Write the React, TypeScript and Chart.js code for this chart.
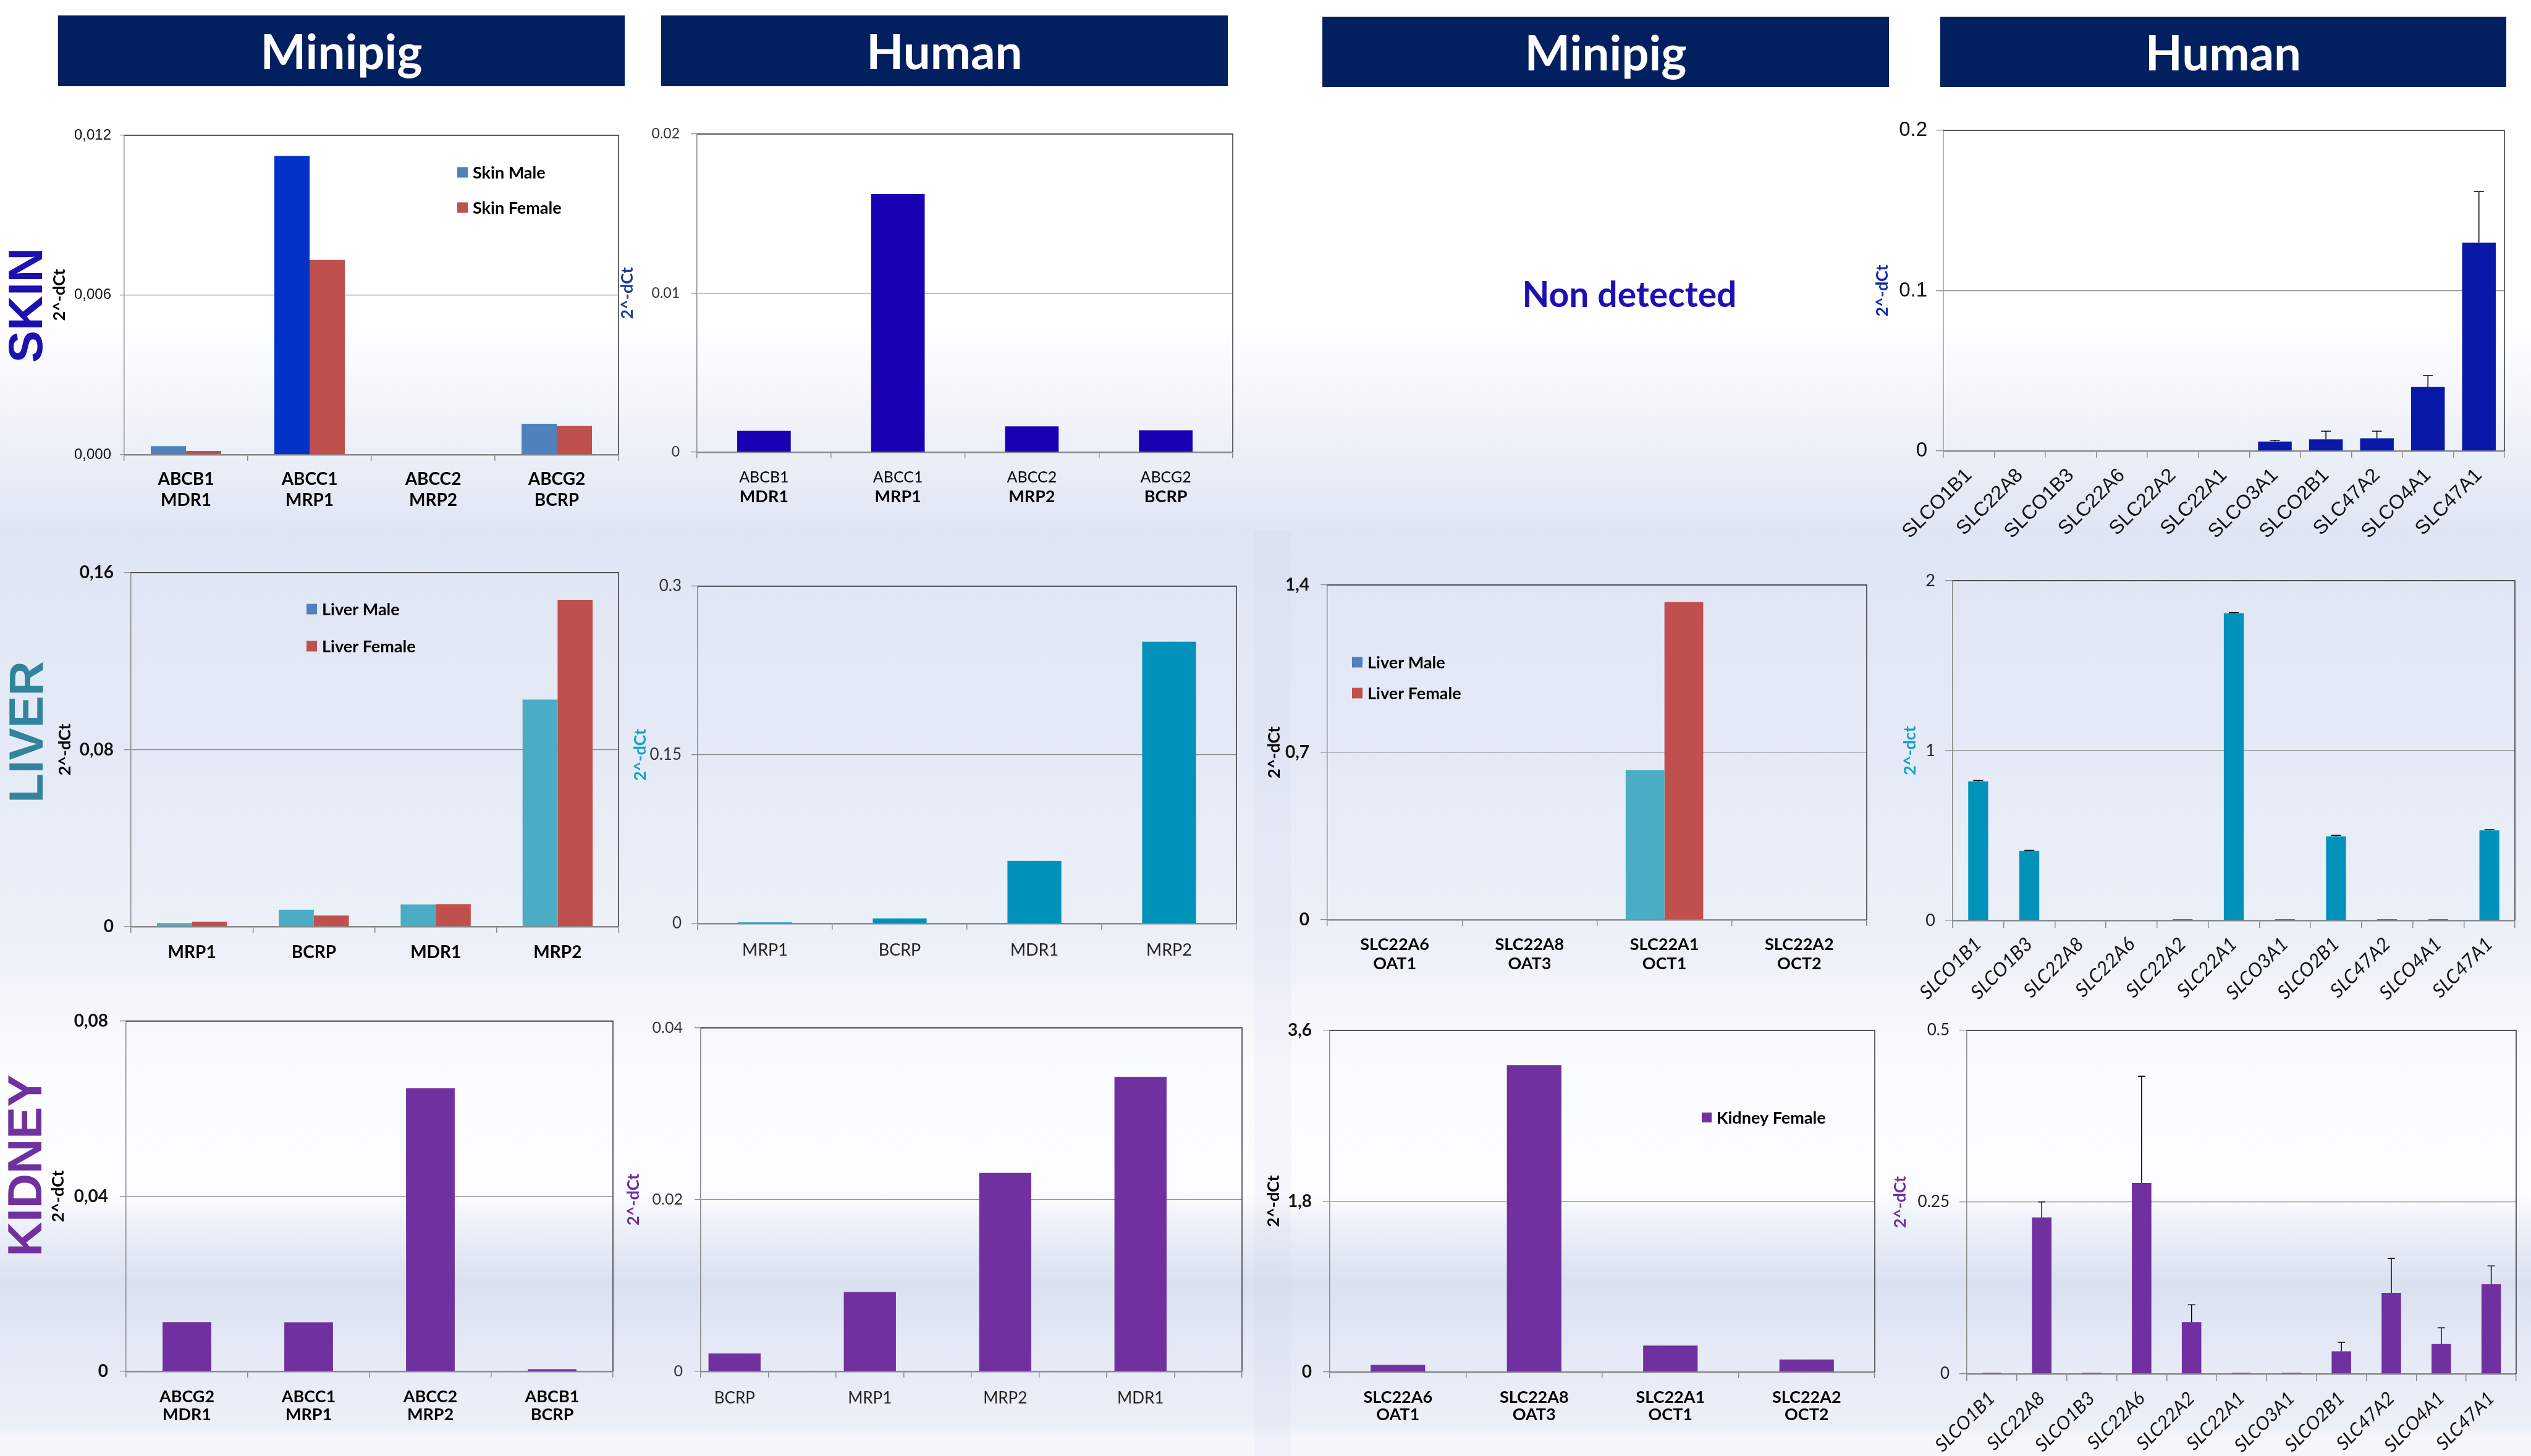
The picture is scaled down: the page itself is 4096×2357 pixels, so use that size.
import React, { useEffect, useRef } from "react";
import { Chart, registerables } from "chart.js";
Chart.register(...registerables);

const CAL = "Lato, 'Open Sans', sans-serif";
const ARIAL = "'Liberation Sans', Arial, sans-serif";
const AXIS = "#8a8a8a";

// ---------------- DATA ----------------
// Row 1 : SKIN
const skinPigLabels = [["ABCB1", "MDR1"], ["ABCC1", "MRP1"], ["ABCC2", "MRP2"], ["ABCG2", "BCRP"]];
const skinPigMale = [0.00032, 0.01122, 0, 0.00116];
const skinPigFemale = [0.00014, 0.00732, 0, 0.00108];
const skinPigMaleColors = ["#4f81bd", "#0032c8", "#4f81bd", "#4f81bd"];
const skinPigTicks = [0, 0.006, 0.012];
const skinPigTickLabels = ["0,000", "0,006", "0,012"];

const skinHumanLabels = [["ABCB1", "MDR1"], ["ABCC1", "MRP1"], ["ABCC2", "MRP2"], ["ABCG2", "BCRP"]];
const skinHumanValues = [0.00134, 0.01623, 0.00162, 0.00138];
const skinHumanTicks = [0, 0.01, 0.02];
const skinHumanTickLabels = ["0", "0.01", "0.02"];

const skinHumanSlcLabels = ["SLCO1B1", "SLC22A8", "SLCO1B3", "SLC22A6", "SLC22A2", "SLC22A1", "SLCO3A1", "SLCO2B1", "SLC47A2", "SLCO4A1", "SLC47A1"];
const skinHumanSlcValues = [0, 0, 0, 0, 0, 0, 0.0059, 0.0072, 0.0079, 0.04, 0.13];
const skinHumanSlcErrors = [0, 0, 0, 0, 0, 0, 0.0007, 0.0051, 0.0044, 0.007, 0.0318];
const skinHumanSlcTicks = [0, 0.1, 0.2];
const skinHumanSlcTickLabels = ["0", "0.1", "0.2"];

// Row 2 : LIVER
const liverPigLabels = ["MRP1", "BCRP", "MDR1", "MRP2"];
const liverPigMale = [0.0016, 0.0076, 0.01, 0.1026];
const liverPigFemale = [0.0022, 0.005, 0.0101, 0.1477];
const liverPigTicks = [0, 0.08, 0.16];
const liverPigTickLabels = ["0", "0,08", "0,16"];

const liverHumanLabels = ["MRP1", "BCRP", "MDR1", "MRP2"];
const liverHumanValues = [0.001, 0.0045, 0.0556, 0.2507];
const liverHumanTicks = [0, 0.15, 0.3];
const liverHumanTickLabels = ["0", "0.15", "0.3"];

const liverPigSlcLabels = [["SLC22A6", "OAT1"], ["SLC22A8", "OAT3"], ["SLC22A1", "OCT1"], ["SLC22A2", "OCT2"]];
const liverPigSlcMale = [0, 0, 0.626, 0];
const liverPigSlcFemale = [0, 0, 1.329, 0];
const liverPigSlcTicks = [0, 0.7, 1.4];
const liverPigSlcTickLabels = ["0", "0,7", "1,4"];

const liverHumanSlcLabels = ["SLCO1B1", "SLCO1B3", "SLC22A8", "SLC22A6", "SLC22A2", "SLC22A1", "SLCO3A1", "SLCO2B1", "SLC47A2", "SLCO4A1", "SLC47A1"];
const liverHumanSlcValues = [0.818, 0.409, 0, 0, 0.007, 1.808, 0.007, 0.495, 0.007, 0.007, 0.53];
const liverHumanSlcErrors = [0.006, 0.004, 0, 0, 0, 0.004, 0, 0.006, 0, 0, 0.005];
const liverHumanSlcTicks = [0, 1, 2];
const liverHumanSlcTickLabels = ["0", "1", "2"];

// Row 3 : KIDNEY
const kidneyPigLabels = [["ABCG2", "MDR1"], ["ABCC1", "MRP1"], ["ABCC2", "MRP2"], ["ABCB1", "BCRP"]];
const kidneyPigValues = [0.01126, 0.0112, 0.0647, 0.00048];
const kidneyPigTicks = [0, 0.04, 0.08];
const kidneyPigTickLabels = ["0", "0,04", "0,08"];

const kidneyHumanLabels = ["BCRP", "", "MRP1", "", "MRP2", "", "MDR1", ""];
const kidneyHumanValues = [0.00208, null, 0.00924, null, 0.02311, null, 0.03429, null];
const kidneyHumanTicks = [0, 0.02, 0.04];
const kidneyHumanTickLabels = ["0", "0.02", "0.04"];

const kidneyPigSlcLabels = [["SLC22A6", "OAT1"], ["SLC22A8", "OAT3"], ["SLC22A1", "OCT1"], ["SLC22A2", "OCT2"]];
const kidneyPigSlcValues = [0.075, 3.234, 0.279, 0.132];
const kidneyPigSlcTicks = [0, 1.8, 3.6];
const kidneyPigSlcTickLabels = ["0", "1,8", "3,6"];

const kidneyHumanSlcLabels = ["SLCO1B1", "SLC22A8", "SLCO1B3", "SLC22A6", "SLC22A2", "SLC22A1", "SLCO3A1", "SLCO2B1", "SLC47A2", "SLCO4A1", "SLC47A1"];
const kidneyHumanSlcValues = [0.0015, 0.2277, 0.0015, 0.2779, 0.0753, 0.0015, 0.0015, 0.0329, 0.1177, 0.0433, 0.1303];
const kidneyHumanSlcErrors = [0, 0.0225, 0, 0.1554, 0.0251, 0, 0, 0.013, 0.0503, 0.0238, 0.0268];
const kidneyHumanSlcTicks = [0, 0.25, 0.5];
const kidneyHumanSlcTickLabels = ["0", "0.25", "0.5"];

const columnHeaders = ["Minipig", "Human", "Minipig", "Human"];
const rowNames = ["SKIN", "LIVER", "KIDNEY"];

// ---------------- PANEL ----------------
function Panel({ cfg }: { cfg: any }) {
  const ref = useRef<HTMLCanvasElement>(null);
  const titleSize = cfg.titleSize ?? 27;
  const [L, T, R, B] = cfg.plot.map((v: number) => Math.round(v));
  const left = Math.round(cfg.titleX - titleSize / 2);
  const topPad = cfg.topPad ?? 22;
  const rightPad = cfg.rightPad ?? 8;
  const top = T - topPad;
  const width = R + rightPad - left;
  const height = B + cfg.xh - top;
  const yWidth = L - left;

  useEffect(() => {
    const rot = cfg.rotation ?? 0;
    const framePlugin = {
      id: "frame",
      afterDatasetsDraw(chart: any) {
        const { ctx, chartArea: a } = chart;
        ctx.save();
        ctx.strokeStyle = "#333";
        ctx.lineWidth = 1.5;
        ctx.beginPath();
        ctx.moveTo(a.left, a.top);
        ctx.lineTo(a.right, a.top);
        ctx.lineTo(a.right, a.bottom);
        ctx.stroke();
        ctx.restore();
      },
    };
    const errPlugin = {
      id: "errbars",
      afterDatasetsDraw(chart: any) {
        const ctx = chart.ctx;
        const ys = chart.scales.y;
        cfg.datasets.forEach((d: any, di: number) => {
          if (!d.errors) return;
          const meta = chart.getDatasetMeta(di);
          d.errors.forEach((e: number, i: number) => {
            const v = d.data[i];
            if (v == null || !e) return;
            const x = meta.data[i].x;
            const y0 = ys.getPixelForValue(v);
            const y1 = ys.getPixelForValue(v + e);
            const cap = cfg.errCap ?? 7;
            ctx.save();
            ctx.strokeStyle = "#000";
            ctx.lineWidth = 1.5;
            ctx.beginPath();
            ctx.moveTo(x, y0);
            ctx.lineTo(x, y1);
            ctx.moveTo(x - cap, y1);
            ctx.lineTo(x + cap, y1);
            ctx.stroke();
            ctx.restore();
          });
        });
      },
    };
    const legendPlugin = {
      id: "boxlegend",
      afterDraw(chart: any) {
        const lg = cfg.legend;
        if (!lg) return;
        const { ctx, chartArea: a } = chart;
        ctx.save();
        ctx.font = lg.font;
        ctx.textBaseline = "middle";
        ctx.textAlign = "left";
        chart.data.datasets.forEach((ds: any, i: number) => {
          const y = a.top + lg.y + i * (lg.dy ?? 0);
          const x = a.left + lg.x;
          ctx.fillStyle = cfg.datasets[i].legendColor ?? ds.backgroundColor;
          ctx.fillRect(x, y - lg.box / 2, lg.box, lg.box);
          ctx.fillStyle = "#000";
          ctx.fillText(ds.label, x + lg.box + 8, y + 1);
        });
        ctx.restore();
      },
    };
    const linesPlugin = {
      id: "twolines",
      afterDraw(chart: any) {
        if (!cfg.customLines) return;
        const { ctx, chartArea: a } = chart;
        const xs = chart.scales.x;
        ctx.save();
        ctx.textAlign = "center";
        ctx.textBaseline = "middle";
        ctx.fillStyle = cfg.xColor ?? "#000";
        chart.data.labels.forEach((lab: any, i: number) => {
          const parts = Array.isArray(lab) ? lab : [lab];
          const x = xs.getPixelForTick(i);
          parts.forEach((t: string, j: number) => {
            const ln = cfg.customLines[j];
            ctx.font = ln.font;
            ctx.fillText(t, x, a.bottom + ln.dy);
          });
        });
        ctx.restore();
      },
    };

    const chart = new Chart(ref.current as HTMLCanvasElement, {
      type: "bar",
      data: {
        labels: cfg.labels,
        datasets: cfg.datasets.map((d: any) => ({
          label: d.label,
          data: d.data,
          backgroundColor: d.color,
          borderWidth: 0,
          categoryPercentage: cfg.catPct,
          barPercentage: 1,
        })),
      },
      options: {
        animation: false,
        responsive: false,
        maintainAspectRatio: false,
        devicePixelRatio: 1,
        layout: { padding: { left: 0, top: topPad, right: rightPad, bottom: 0 } },
        plugins: { legend: { display: false }, tooltip: { enabled: false } },
        scales: {
          x: {
            type: "category",
            offset: true,
            grid: { offset: true, drawOnChartArea: false, drawTicks: true, tickLength: cfg.xTickLen ?? 10, color: AXIS, lineWidth: 1.5 },
            border: { display: true, color: AXIS, width: 2.5 },
            ticks: {
              display: !cfg.customLines,
              autoSkip: false,
              minRotation: rot,
              maxRotation: rot,
              padding: cfg.xPad ?? 14,
              color: cfg.xColor ?? "#000",
              font: cfg.xFont,
            },
            afterFit: (s: any) => {
              s.height = cfg.xh;
              s.paddingLeft = 0;
              s.paddingRight = 0;
            },
          },
          y: {
            min: 0,
            max: cfg.yTicks[cfg.yTicks.length - 1],
            grid: { color: AXIS, lineWidth: 1.3, tickLength: cfg.yTickLen ?? 10, drawTicks: true },
            border: { display: true, color: AXIS, width: 1.5 },
            ticks: {
              padding: cfg.yPad ?? 16,
              color: cfg.yColor ?? "#111",
              font: cfg.yFont,
              callback: (_v: any, i: number) => cfg.yTickLabels[i],
            },
            afterBuildTicks: (s: any) => {
              s.ticks = cfg.yTicks.map((v: number) => ({ value: v }));
            },
            afterFit: (s: any) => {
              s.width = yWidth;
              s.paddingTop = 0;
              s.paddingBottom = 0;
            },
            title: {
              display: true,
              text: cfg.title,
              color: cfg.titleColor,
              font: { family: CAL, size: titleSize, weight: "bold", lineHeight: 1 },
              padding: 0,
            },
          },
        },
      } as any,
      plugins: [framePlugin, errPlugin, legendPlugin, linesPlugin],
    });
    return () => chart.destroy();
  }, []);

  return (
    <canvas
      ref={ref}
      width={width}
      height={height}
      style={{ position: "absolute", left, top, width, height }}
    />
  );
}

// ---------------- PANEL CONFIGS ----------------
const BOLD_X = (size: number, lh = 1.2) => ({ family: CAL, size, weight: "bold", lineHeight: lh });
const REG = (size: number) => ({ family: CAL, size, weight: "normal" });
const BOLD = (size: number) => ({ family: CAL, size, weight: "bold" });

const panels: any[] = [
  {
    titleX: 96, plot: [201, 219, 1001, 736], xh: 120,
    labels: skinPigLabels,
    datasets: [
      { label: "Skin Male", data: skinPigMale, color: skinPigMaleColors, legendColor: "#4f81bd" },
      { label: "Skin Female", data: skinPigFemale, color: "#c0504d" },
    ],
    catPct: 0.57, yTicks: skinPigTicks, yTickLabels: skinPigTickLabels,
    yFont: { family: ARIAL, size: 24 }, yTickLen: 7, yPad: 14, yColor: "#111",
    xFont: BOLD_X(28, 1.22), xTickLen: 10, xPad: 13,
    title: "2^-dCt", titleColor: "#000",
    legend: { x: 539, y: 60, dy: 57, box: 17, font: `bold 27px ${CAL}` },
  },
  {
    titleX: 1015, plot: [1128, 217, 1995, 732], xh: 110,
    labels: skinHumanLabels,
    datasets: [{ label: "Skin", data: skinHumanValues, color: "#1801b2" }],
    catPct: 0.4, yTicks: skinHumanTicks, yTickLabels: skinHumanTickLabels,
    yFont: REG(23), yTickLen: 10, yPad: 18, yColor: "#333",
    customLines: [{ font: `25px ${CAL}`, dy: 41 }, { font: `bold 27px ${CAL}`, dy: 72 }],
    xTickLen: 10, title: "2^-dCt", titleColor: "#1d3e94",
  },
  {
    titleX: 3046, plot: [3145, 211, 4053, 730], xh: 165, rightPad: 22,
    labels: skinHumanSlcLabels,
    datasets: [{ label: "Skin", data: skinHumanSlcValues, color: "#0818a8", errors: skinHumanSlcErrors }],
    catPct: 0.66, yTicks: skinHumanSlcTicks, yTickLabels: skinHumanSlcTickLabels,
    yFont: { family: ARIAL, size: 33 }, yTickLen: 12, yPad: 14, yColor: "#111",
    xFont: { family: ARIAL, size: 32 }, rotation: 45, xTickLen: 11, xPad: 10, xColor: "#111",
    title: "2^-dCt", titleColor: "#1528a8", errCap: 8,
  },
  {
    titleX: 105, plot: [212, 927, 1001, 1500], xh: 90,
    labels: liverPigLabels,
    datasets: [
      { label: "Liver Male", data: liverPigMale, color: "#4bacc6", legendColor: "#4f81bd" },
      { label: "Liver Female", data: liverPigFemale, color: "#c0504d" },
    ],
    catPct: 0.575, yTicks: liverPigTicks, yTickLabels: liverPigTickLabels,
    yFont: BOLD(28), yTickLen: 11, yPad: 17,
    xFont: BOLD_X(28), xTickLen: 10, xPad: 15,
    title: "2^-dCt", titleColor: "#000",
    legend: { x: 284, y: 59, dy: 60, box: 17, font: `bold 27px ${CAL}` },
  },
  {
    titleX: 1036, plot: [1129, 949, 2001, 1495], xh: 90,
    labels: liverHumanLabels,
    datasets: [{ label: "Liver", data: liverHumanValues, color: "#0092bb" }],
    catPct: 0.4, yTicks: liverHumanTicks, yTickLabels: liverHumanTickLabels,
    yFont: REG(26), yTickLen: 10, yPad: 16, yColor: "#333",
    xFont: { family: CAL, size: 27, lineHeight: 1.2 }, xTickLen: 10, xPad: 17, xColor: "#222",
    title: "2^-dCt", titleColor: "#1aa0c8",
  },
  {
    titleX: 2062, plot: [2148, 947, 3021, 1489], xh: 110,
    labels: liverPigSlcLabels,
    datasets: [
      { label: "Liver Male", data: liverPigSlcMale, color: "#4bacc6", legendColor: "#4f81bd" },
      { label: "Liver Female", data: liverPigSlcFemale, color: "#c0504d" },
    ],
    catPct: 0.575, yTicks: liverPigSlcTicks, yTickLabels: liverPigSlcTickLabels,
    yFont: BOLD(28), yTickLen: 11, yPad: 18,
    xFont: BOLD_X(27, 1.15), xTickLen: 10, xPad: 15,
    title: "2^-dCt", titleColor: "#000",
    legend: { x: 40, y: 125, dy: 50, box: 17, font: `bold 27px ${CAL}` },
  },
  {
    titleX: 3091, plot: [3160, 940, 4070, 1490], xh: 150, rightPad: 22,
    labels: liverHumanSlcLabels,
    datasets: [{ label: "Liver", data: liverHumanSlcValues, color: "#0092bb", errors: liverHumanSlcErrors }],
    catPct: 0.39, yTicks: liverHumanSlcTicks, yTickLabels: liverHumanSlcTickLabels,
    yFont: REG(27), yTickLen: 12, yPad: 16, yColor: "#222",
    xFont: { family: CAL, size: 31, style: "italic" }, rotation: 45, xTickLen: 12, xPad: 8, xColor: "#111",
    title: "2^-dct", titleColor: "#1aa0c8", errCap: 8,
  },
  {
    titleX: 94, plot: [204, 1653, 992, 2220], xh: 110,
    labels: kidneyPigLabels,
    datasets: [{ label: "Kidney", data: kidneyPigValues, color: "#7030a0" }],
    catPct: 0.4, yTicks: kidneyPigTicks, yTickLabels: kidneyPigTickLabels,
    yFont: BOLD(28), yTickLen: 10, yPad: 19,
    xFont: BOLD_X(27, 1.07), xTickLen: 10, xPad: 17,
    title: "2^-dCt", titleColor: "#000",
  },
  {
    titleX: 1025, plot: [1134, 1664, 2010, 2220], xh: 110,
    labels: kidneyHumanLabels,
    datasets: [{ label: "Kidney", data: kidneyHumanValues, color: "#7030a0" }],
    catPct: 0.77, yTicks: kidneyHumanTicks, yTickLabels: kidneyHumanTickLabels,
    yFont: REG(25), yTickLen: 10, yPad: 19, yColor: "#333",
    xFont: { family: CAL, size: 26, lineHeight: 1.2 }, xTickLen: 10, xPad: 18, xColor: "#222",
    title: "2^-dCt", titleColor: "#7030a0",
  },
  {
    titleX: 2061, plot: [2152, 1668, 3034, 2221], xh: 110,
    labels: kidneyPigSlcLabels,
    datasets: [{ label: "Kidney Female", data: kidneyPigSlcValues, color: "#7030a0" }],
    catPct: 0.4, yTicks: kidneyPigSlcTicks, yTickLabels: kidneyPigSlcTickLabels,
    yFont: BOLD(28), yTickLen: 11, yPad: 18,
    xFont: BOLD_X(27, 1.05), xTickLen: 10, xPad: 17,
    title: "2^-dCt", titleColor: "#000",
    legend: { x: 602, y: 141, dy: 0, box: 16, font: `bold 27px ${CAL}` },
  },
  {
    titleX: 3075, plot: [3183, 1668, 4072, 2224], xh: 133, rightPad: 20,
    labels: kidneyHumanSlcLabels,
    datasets: [{ label: "Kidney", data: kidneyHumanSlcValues, color: "#7030a0", errors: kidneyHumanSlcErrors }],
    catPct: 0.39, yTicks: kidneyHumanSlcTicks, yTickLabels: kidneyHumanSlcTickLabels,
    yFont: REG(26), yTickLen: 12, yPad: 16, yColor: "#222",
    xFont: { family: CAL, size: 30, style: "italic" }, rotation: 45, xTickLen: 12, xPad: 10, xColor: "#111",
    title: "2^-dCt", titleColor: "#7030a0", errCap: 6,
  },
];

const headerBoxes = [
  { left: 94, top: 25, width: 917, height: 114 },
  { left: 1070, top: 25, width: 917, height: 114 },
  { left: 2140, top: 27, width: 917, height: 114 },
  { left: 3140, top: 27, width: 916, height: 114 },
];
const rowLabelPos = [
  { cx: 41, cy: 494, color: "#1c10b0" },
  { cx: 42, cy: 1185, color: "#31849b" },
  { cx: 40, cy: 1887, color: "#7030a0" },
];

export default function App() {
  return (
    <div
      style={{
        position: "fixed",
        left: 0,
        top: 0,
        width: 4096,
        height: 2357,
        overflow: "hidden",
        background:
          "linear-gradient(to bottom, #ffffff 0px, #ffffff 520px, #dfe6f3 860px, #e3e9f5 1150px, #edf1f9 1560px, #f2f5fb 1600px, #fbfcfe 1745px, #fdfdff 1935px, #eef2f9 1975px, #d9e1f0 2080px, #e4e9f5 2180px, #ecf0f8 2310px, #f5f7fc 2325px, #f5f7fc 2357px)",
        fontFamily: CAL,
      }}
    >
      <div
        style={{
          position: "absolute",
          left: 2029,
          top: 860,
          width: 61,
          height: 1497,
          background: "rgba(175,192,225,0.09)",
        }}
      />
      {headerBoxes.map((h, i) => (
        <div
          key={"h" + i}
          style={{
            position: "absolute",
            ...h,
            background: "#022060",
            color: "#fff",
            fontFamily: CAL,
            fontWeight: 700,
            fontSize: 78,
            lineHeight: h.height + "px",
            textAlign: "center",
          }}
        >
          {columnHeaders[i]}
        </div>
      ))}
      {rowLabelPos.map((r, i) => (
        <div
          key={"r" + i}
          style={{
            position: "absolute",
            left: r.cx,
            top: r.cy,
            transform: "translate(-50%, -50%) rotate(-90deg)",
            color: r.color,
            fontFamily: ARIAL,
            fontWeight: 700,
            fontSize: 78,
            lineHeight: 1,
            whiteSpace: "nowrap",
          }}
        >
          {rowNames[i]}
        </div>
      ))}
      <div
        style={{
          position: "absolute",
          left: 2637,
          top: 475,
          transform: "translate(-50%, -50%)",
          color: "#1c10b4",
          fontFamily: CAL,
          fontWeight: 700,
          fontSize: 57,
          lineHeight: 1,
          whiteSpace: "nowrap",
        }}
      >
        Non detected
      </div>
      {panels.map((p, i) => (
        <Panel key={i} cfg={p} />
      ))}
    </div>
  );
}
